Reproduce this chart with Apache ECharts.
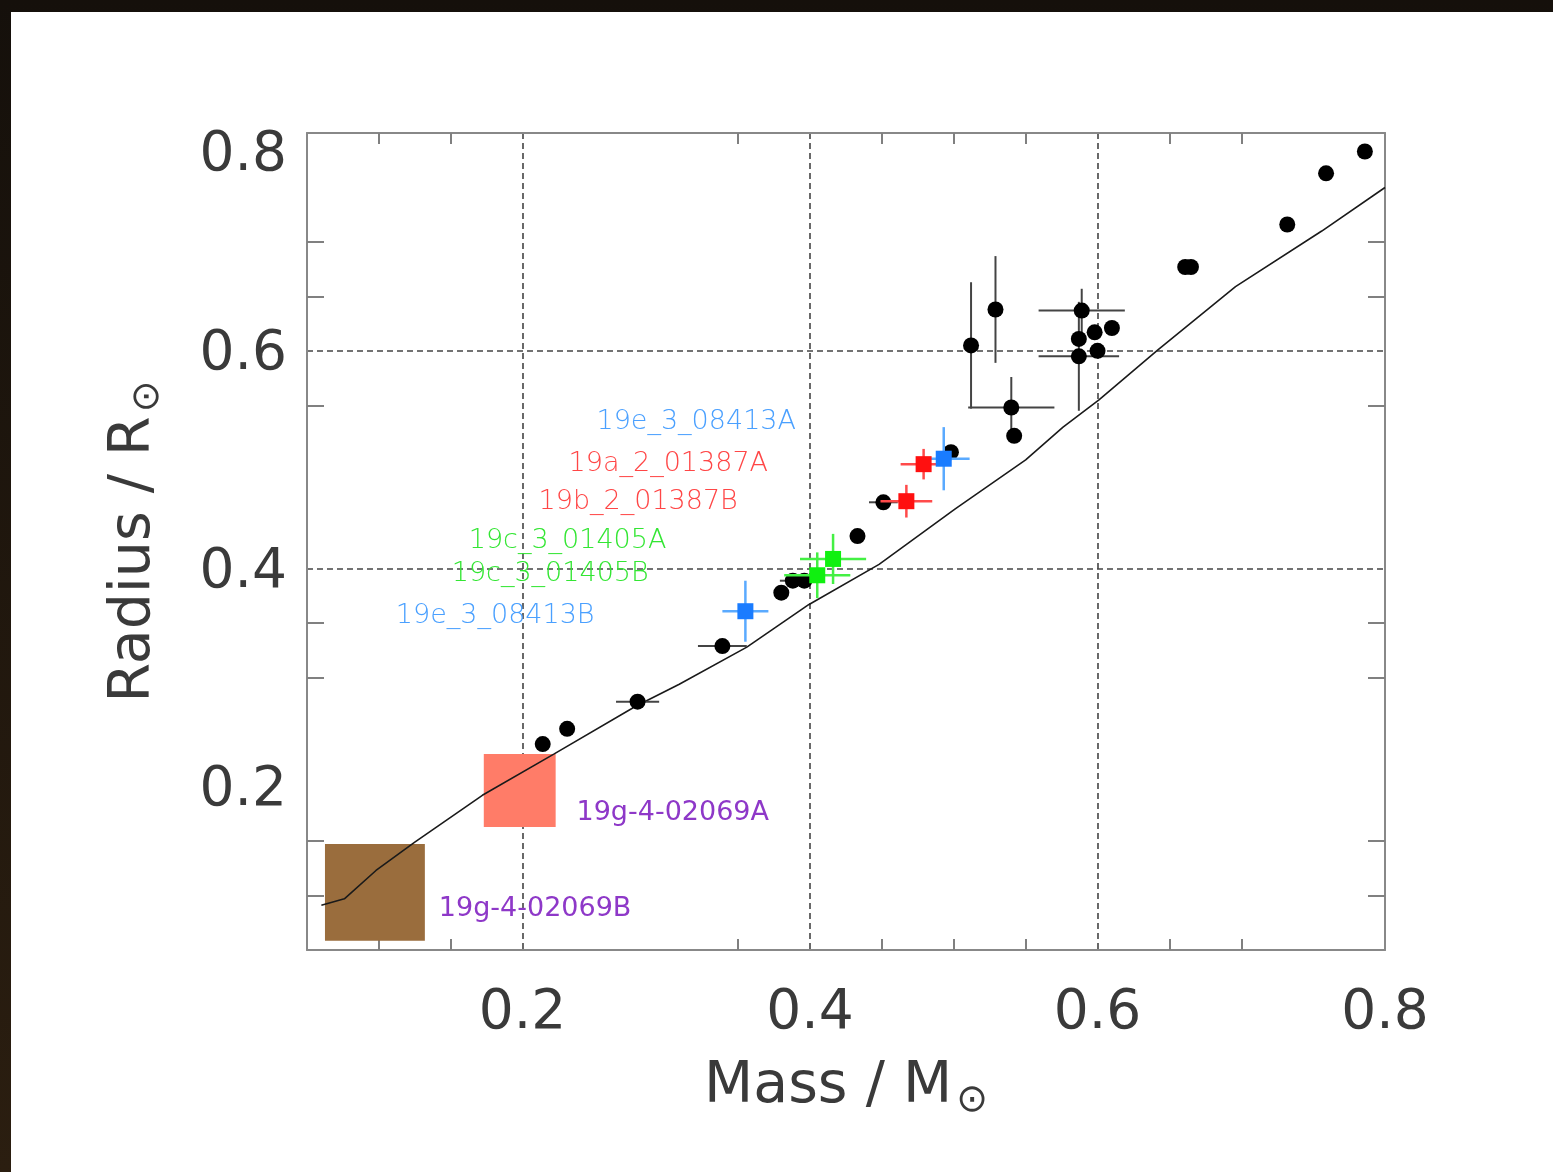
<!DOCTYPE html>
<html><head><meta charset="utf-8">
<script src="https://cdn.jsdelivr.net/npm/echarts@6/dist/echarts.min.js"></script>
<style>
html,body{margin:0;padding:0;width:1553px;height:1172px;overflow:hidden;background:linear-gradient(#15100b,#2b1e10);}
#panel{position:absolute;left:11px;top:12px;width:1542px;height:1160px;background:#fff;}
#chart{position:absolute;left:0;top:0;width:1553px;height:1172px;}
</style></head><body>
<div id="panel"></div>
<div id="chart"></div>
<script>
// ---- axis ticks / labels ----
const xLabelValues = [0.2, 0.4, 0.6, 0.8];
const yLabelValues = [0.2, 0.4, 0.6, 0.8];
const xMinorTicks = [0.1, 0.15, 0.35, 0.45, 0.5, 0.55, 0.65, 0.7];
const yMinorTicks = [0.1, 0.15, 0.3, 0.35, 0.55, 0.65, 0.7];
const xGridValues = [0.2, 0.4, 0.6];
const yGridValues = [0.4, 0.6];

// ---- model isochrone ----
const modelMass   = [0.060, 0.076, 0.098, 0.125, 0.172, 0.222, 0.279, 0.309, 0.356, 0.399, 0.448, 0.501, 0.550, 0.576, 0.601, 0.642, 0.696, 0.756, 0.800];
const modelRadius = [0.091, 0.097, 0.123, 0.149, 0.192, 0.230, 0.274, 0.294, 0.328, 0.367, 0.404, 0.455, 0.500, 0.530, 0.555, 0.601, 0.659, 0.710, 0.750];

// ---- literature stars (black) ----
const blackMass      = [0.214, 0.231, 0.280, 0.339, 0.380, 0.388, 0.396, 0.433, 0.451, 0.498, 0.512, 0.529, 0.540, 0.542, 0.589, 0.587, 0.587, 0.598, 0.610, 0.600, 0.661, 0.665, 0.732, 0.759, 0.786];
const blackRadius    = [0.239, 0.253, 0.278, 0.329, 0.378, 0.389, 0.389, 0.430, 0.461, 0.507, 0.605, 0.638, 0.548, 0.522, 0.637, 0.611, 0.595, 0.617, 0.621, 0.600, 0.677, 0.677, 0.716, 0.763, 0.783];
const blackMassErr   = [0, 0, 0.015, 0.017, 0, 0.009, 0, 0, 0.010, 0, 0, 0, 0.030, 0, 0.030, 0, 0.028, 0, 0, 0, 0, 0, 0, 0, 0];
const blackRadiusErr = [0, 0, 0, 0, 0, 0, 0, 0, 0, 0, 0.058, 0.049, 0.028, 0, 0.020, 0, 0.050, 0, 0, 0, 0, 0, 0, 0, 0];

// ---- new binaries (coloured squares) ----
const starNames     = ['19e_3_08413A', '19e_3_08413B', '19a_2_01387A', '19b_2_01387B', '19c_3_01405A', '19c_3_01405B'];
const starGroup     = ['blue', 'blue', 'red', 'red', 'green', 'green'];
const starMass      = [0.493, 0.355, 0.479, 0.467, 0.416, 0.405];
const starRadius    = [0.501, 0.361, 0.496, 0.462, 0.409, 0.394];
const starMassErr   = [0.018, 0.016, 0.016, 0.018, 0.023, 0.023];
const starRadiusErr = [0.029, 0.028, 0.014, 0.015, 0.023, 0.021];

// ---- text labels (left anchor, data coords) ----
const labelText   = ['19e_3_08413A', '19a_2_01387A', '19b_2_01387B', '19c_3_01405A', '19c_3_01405B', '19e_3_08413B', '19g-4-02069A', '19g-4-02069B'];
const labelGroup  = ['blue', 'red', 'red', 'green', 'green', 'blue', 'purple', 'purple'];
const labelMass   = [0.2514, 0.232, 0.2111, 0.1625, 0.1507, 0.1118, 0.2375, 0.1417];
const labelRadius = [0.535, 0.4957, 0.461, 0.4253, 0.3952, 0.3568, 0.176, 0.0874];

// ---- 19g-4-02069 boxes ----
const boxNames    = ['19g-4-02069A', '19g-4-02069B'];
const boxMassLo   = [0.173, 0.0625];
const boxMassHi   = [0.223, 0.132];
const boxRadiusLo = [0.163, 0.0585];
const boxRadiusHi = [0.230, 0.1474];

// ---- styles ----
const markColor  = {blue: '#1a7cff', red: '#ff1010', green: '#10f010'};
const errColor   = {blue: '#5aaaff', red: '#ff4a4a', green: '#44f044'};
const textColor  = {blue: '#4aa0ff', red: '#ff4646', green: '#33e633', purple: '#8e38c8'};
const boxColor   = ['#ff7c68', '#9a6d3d'];
const FONT = 'DejaVu Sans';

const chart = echarts.init(document.getElementById('chart'), null, {renderer: 'canvas'});

function errorBarRender(colorFn, width) {
  return function (params, api) {
    const m = api.value(0), r = api.value(1), dm = api.value(2), dr = api.value(3);
    const stroke = colorFn(params.dataIndex);
    const children = [];
    if (dm > 0) {
      const a = api.coord([m - dm, r]), b = api.coord([m + dm, r]);
      children.push({type: 'line', shape: {x1: a[0], y1: a[1], x2: b[0], y2: b[1]}, style: {stroke, lineWidth: width}});
    }
    if (dr > 0) {
      const a = api.coord([m, r - dr]), b = api.coord([m, r + dr]);
      children.push({type: 'line', shape: {x1: a[0], y1: a[1], x2: b[0], y2: b[1]}, style: {stroke, lineWidth: width}});
    }
    return {type: 'group', children};
  };
}

const axisLineStyle = {color: '#888', width: 2};
const tickStyle = {color: '#808080', width: 2};
const gridLineStyle = {color: '#444', width: 1.6, type: [6, 4]};
const labelStyle = {fontFamily: FONT, fontSize: 55, color: '#3a3a3a'};
const nameRich = {
  a: {fontFamily: FONT, fontSize: 57, color: '#3a3a3a'},
  b: {fontFamily: FONT, fontSize: 38, color: '#3a3a3a', padding: [28, 0, 0, 4]}
};

const option = {
  animation: false,
  backgroundColor: 'transparent',
  grid: {left: 307, top: 133, width: 1078, height: 817, containLabel: false},
  xAxis: [
    {
      type: 'value', min: 0.05, max: 0.8, position: 'bottom',
      axisLine: {show: true, onZero: false, lineStyle: axisLineStyle},
      axisTick: {show: true, inside: true, length: 11, customValues: xMinorTicks, lineStyle: tickStyle},
      axisLabel: {show: true, customValues: xLabelValues, margin: 36, ...labelStyle, formatter: v => v.toFixed(1)},
      splitLine: {show: false},
      name: '{a|Mass / M}{b|\u2299}', nameLocation: 'middle', nameGap: 104,
      nameTextStyle: {fontFamily: FONT, fontSize: 57, color: '#3a3a3a', rich: nameRich}
    },
    {
      type: 'value', min: 0.05, max: 0.8, position: 'bottom',
      axisLine: {show: false}, axisLabel: {show: false},
      axisTick: {show: false, customValues: xGridValues},
      splitLine: {show: true, lineStyle: gridLineStyle}
    },
    {
      type: 'value', min: 0.05, max: 0.8, position: 'top',
      axisLine: {show: true, onZero: false, lineStyle: axisLineStyle},
      axisTick: {show: true, inside: true, length: 11, customValues: xMinorTicks, lineStyle: tickStyle},
      axisLabel: {show: false}, splitLine: {show: false}
    }
  ],
  yAxis: [
    {
      type: 'value', min: 0.05, max: 0.8, position: 'left',
      axisLine: {show: true, onZero: false, lineStyle: axisLineStyle},
      axisTick: {show: true, inside: true, length: 17, customValues: yMinorTicks, lineStyle: tickStyle},
      axisLabel: {show: true, customValues: yLabelValues, margin: 20, ...labelStyle,
        formatter: v => Math.abs(v - 0.8) < 1e-9 ? '{top|0.8}' : '{n|' + v.toFixed(1) + '}',
        rich: {top: {...labelStyle, padding: [46, 0, 0, 0]}, n: {...labelStyle, padding: [8, 0, 0, 0]}}},
      splitLine: {show: false},
      name: '{a|Radius / R}{b|\u2299}', nameLocation: 'middle', nameGap: 140,
      nameTextStyle: {fontFamily: FONT, fontSize: 57, color: '#3a3a3a', rich: nameRich}
    },
    {
      type: 'value', min: 0.05, max: 0.8, position: 'left',
      axisLine: {show: false}, axisLabel: {show: false},
      axisTick: {show: false, customValues: yGridValues},
      splitLine: {show: true, lineStyle: gridLineStyle}
    },
    {
      type: 'value', min: 0.05, max: 0.8, position: 'right',
      axisLine: {show: true, onZero: false, lineStyle: axisLineStyle},
      axisTick: {show: true, inside: true, length: 17, customValues: yMinorTicks, lineStyle: tickStyle},
      axisLabel: {show: false}, splitLine: {show: false}
    }
  ],
  series: [
    {
      name: 'boxes', type: 'custom', z: 1,
      data: boxNames.map((n, i) => [boxMassLo[i], boxMassHi[i], boxRadiusLo[i], boxRadiusHi[i]]),
      encode: {x: [0, 1], y: [2, 3]},
      renderItem: function (params, api) {
        const p1 = api.coord([api.value(0), api.value(3)]);
        const p2 = api.coord([api.value(1), api.value(2)]);
        return {type: 'rect', shape: {x: p1[0], y: p1[1], width: p2[0] - p1[0], height: p2[1] - p1[1]},
                style: {fill: boxColor[params.dataIndex]}};
      }
    },
    {
      name: 'model', type: 'line', z: 3, showSymbol: false, symbol: 'none', smooth: false,
      data: modelMass.map((m, i) => [m, modelRadius[i]]),
      lineStyle: {color: '#1a1a1a', width: 1.6}
    },
    {
      name: 'blackErr', type: 'custom', z: 4,
      data: blackMass.map((m, i) => [m, blackRadius[i], blackMassErr[i], blackRadiusErr[i]]),
      encode: {x: 0, y: 1},
      renderItem: errorBarRender(() => '#444', 2)
    },
    {
      name: 'black', type: 'scatter', z: 5, symbol: 'circle', symbolSize: 16,
      data: blackMass.map((m, i) => [m, blackRadius[i]]),
      itemStyle: {color: '#000', opacity: 1}
    },
    {
      name: 'starErr', type: 'custom', z: 6,
      data: starMass.map((m, i) => [m, starRadius[i], starMassErr[i], starRadiusErr[i]]),
      encode: {x: 0, y: 1},
      renderItem: errorBarRender(i => errColor[starGroup[i]], 2.5)
    },
    {
      name: 'stars', type: 'scatter', z: 7, symbol: 'rect', symbolSize: 16,
      data: starMass.map((m, i) => ({name: starNames[i], value: [m, starRadius[i]],
        itemStyle: {color: markColor[starGroup[i]], opacity: 1}}))
    },
    {
      name: 'labels', type: 'scatter', z: 8, symbolSize: 0, silent: true,
      data: labelText.map((t, i) => ({
        name: t, value: [labelMass[i], labelRadius[i]],
        label: {
          show: true, position: [0, 0], align: 'left', verticalAlign: 'middle',
          formatter: t, color: textColor[labelGroup[i]], fontFamily: FONT, opacity: 1,
          fontSize: labelGroup[i] === 'purple' ? 27 : 27,
          fontWeight: labelGroup[i] === 'purple' ? 'normal' : 'lighter'
        }
      })),
      itemStyle: {color: 'transparent', opacity: 1}
    }
  ]
};
chart.setOption(option);
</script></body></html>
